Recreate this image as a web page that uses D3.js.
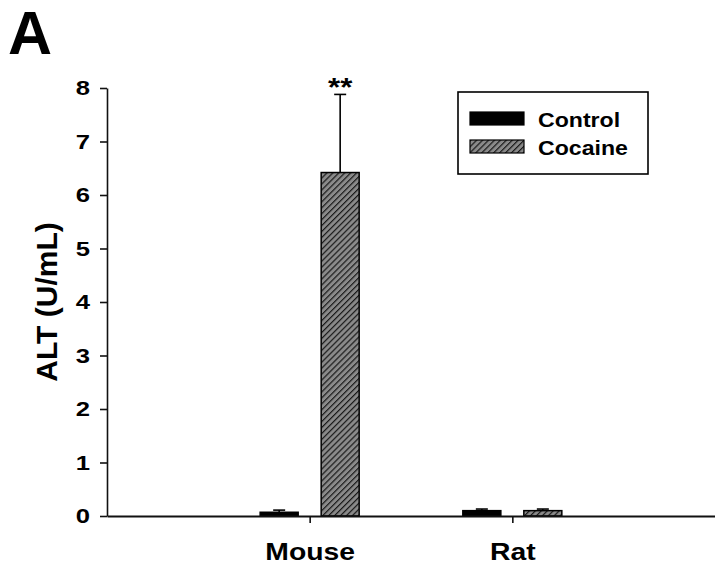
<!DOCTYPE html>
<html>
<head>
<meta charset="utf-8">
<script src="https://cdn.jsdelivr.net/npm/d3@7"></script>
<style>
  html, body { margin: 0; padding: 0; background: #fff; }
  svg { display: block; font-family: "Liberation Sans", Arial, sans-serif; }
</style>
</head>
<body>
<svg id="chart" width="715" height="572"></svg>
<script>
// ---- data ----
const categories = ["Mouse", "Rat"];
const seriesNames = ["Control", "Cocaine"];
const controlValues = [0.07, 0.10];
const controlErrors = [0.04, 0.03];
const cocaineValues = [6.42, 0.10];
const cocaineErrors = [1.46, 0.03];
const yTicks = [0, 1, 2, 3, 4, 5, 6, 7, 8];
const significance = ["**", ""];
const panelLabel = "A";
const yLabel = "ALT (U/mL)";

const rows = [];
categories.forEach((c, i) => {
  rows.push({cat: c, series: "Control", value: controlValues[i], err: controlErrors[i], sig: ""});
  rows.push({cat: c, series: "Cocaine", value: cocaineValues[i], err: cocaineErrors[i], sig: significance[i]});
});

// ---- layout ----
const svg = d3.select("#chart");
const plotLeft = 107, plotRight = 715, plotTop = 88, plotBottom = 516;

function stretch(sel, k) {
  sel.each(function () {
    const len = this.getComputedTextLength();
    d3.select(this).attr("textLength", len * k).attr("lengthAdjust", "spacingAndGlyphs");
  });
}

const y = d3.scaleLinear().domain([0, 8]).range([plotBottom, plotTop]);
const x = d3.scalePoint().domain(categories).range([plotLeft, plotRight]).padding(1);
const xs = d3.scaleBand().domain(seriesNames).range([-49.5, 49.5]).paddingInner(0.377);

// hatch pattern
const defs = svg.append("defs");
const pat = defs.append("pattern")
  .attr("id", "hatch").attr("patternUnits", "userSpaceOnUse")
  .attr("width", 4.2).attr("height", 4.2)
  .attr("patternTransform", "rotate(45)");
pat.append("rect").attr("width", 4.2).attr("height", 4.2).attr("fill", "#8a8a8a");
pat.append("line").attr("x1", 0).attr("y1", 0).attr("x2", 0).attr("y2", 4.2)
  .attr("stroke", "#1a1a1a").attr("stroke-width", 2.4);

const fillFor = s => s === "Control" ? "#000" : "url(#hatch)";

// bars
svg.append("g").selectAll("rect").data(rows).join("rect")
  .attr("x", d => x(d.cat) + xs(d.series))
  .attr("y", d => y(d.value))
  .attr("width", xs.bandwidth())
  .attr("height", d => y(0) - y(d.value))
  .attr("fill", d => fillFor(d.series))
  .attr("stroke", "#000").attr("stroke-width", 1.5);

// error bars
const eb = svg.append("g").attr("stroke", "#000").attr("stroke-width", 1.6);
eb.selectAll("line.v").data(rows).join("line").attr("class", "v")
  .attr("x1", d => x(d.cat) + xs(d.series) + xs.bandwidth() / 2)
  .attr("x2", d => x(d.cat) + xs(d.series) + xs.bandwidth() / 2)
  .attr("y1", d => y(d.value))
  .attr("y2", d => y(d.value + d.err));
eb.selectAll("line.c").data(rows).join("line").attr("class", "c")
  .attr("x1", d => x(d.cat) + xs(d.series) + xs.bandwidth() / 2 - 6)
  .attr("x2", d => x(d.cat) + xs(d.series) + xs.bandwidth() / 2 + 6)
  .attr("y1", d => y(d.value + d.err))
  .attr("y2", d => y(d.value + d.err));

// significance
svg.append("g").selectAll("text").data(rows.filter(d => d.sig)).join("text")
  .attr("x", d => x(d.cat) + xs(d.series) + xs.bandwidth() / 2)
  .attr("y", d => y(d.value + d.err) + 2)
  .attr("text-anchor", "middle")
  .attr("font-size", 26).attr("font-weight", "bold")
  .text(d => d.sig)
  .call(stretch, 1.2);

// y axis
const yAxis = svg.append("g").attr("transform", `translate(${plotLeft},0)`)
  .call(d3.axisLeft(y).tickValues(yTicks).tickFormat(d3.format("d")).tickSize(7).tickSizeOuter(0).tickPadding(10));
yAxis.select(".domain").attr("stroke", "#111").attr("stroke-width", 1.6);
yAxis.selectAll(".tick line").attr("stroke", "#111").attr("stroke-width", 1.6);
yAxis.selectAll(".tick text").attr("font-size", 20.5).attr("font-weight", "bold")
  .attr("fill", "#000").attr("font-family", "Liberation Sans, Arial, sans-serif")
  .call(stretch, 1.25);

// x axis
const xAxis = svg.append("g").attr("transform", `translate(0,${plotBottom})`)
  .call(d3.axisBottom(x).tickSize(7).tickSizeOuter(0).tickPadding(20));
xAxis.select(".domain").attr("stroke", "#111").attr("stroke-width", 2);
xAxis.selectAll(".tick line").attr("stroke", "#111").attr("stroke-width", 1.6);
xAxis.selectAll(".tick text").attr("font-size", 24).attr("font-weight", "bold")
  .attr("fill", "#000").attr("font-family", "Liberation Sans, Arial, sans-serif")
  .call(stretch, 1.18);

// y label
svg.append("text")
  .attr("transform", `translate(57,${(plotTop + plotBottom) / 2}) rotate(-90)`)
  .attr("text-anchor", "middle")
  .attr("font-size", 30).attr("font-weight", "bold")
  .text(yLabel);

// panel label
svg.append("text").attr("x", 8).attr("y", 54)
  .attr("font-size", 61).attr("font-weight", "bold").text(panelLabel);

// legend
const lg = svg.append("g");
lg.append("rect").attr("x", 458).attr("y", 92).attr("width", 190).attr("height", 82)
  .attr("fill", "#fff").attr("stroke", "#000").attr("stroke-width", 1.6);
const li = lg.selectAll("g.item").data(seriesNames).join("g").attr("class", "item")
  .attr("transform", (d, i) => `translate(470,${112 + i * 28})`);
li.append("rect").attr("width", 54).attr("height", 13)
  .attr("fill", d => fillFor(d)).attr("stroke", "#000").attr("stroke-width", 1.2);
li.append("text").attr("x", 68).attr("y", 15)
  .attr("font-size", 21).attr("font-weight", "bold").text(d => d)
  .call(stretch, 1.1);
</script>
</body>
</html>
